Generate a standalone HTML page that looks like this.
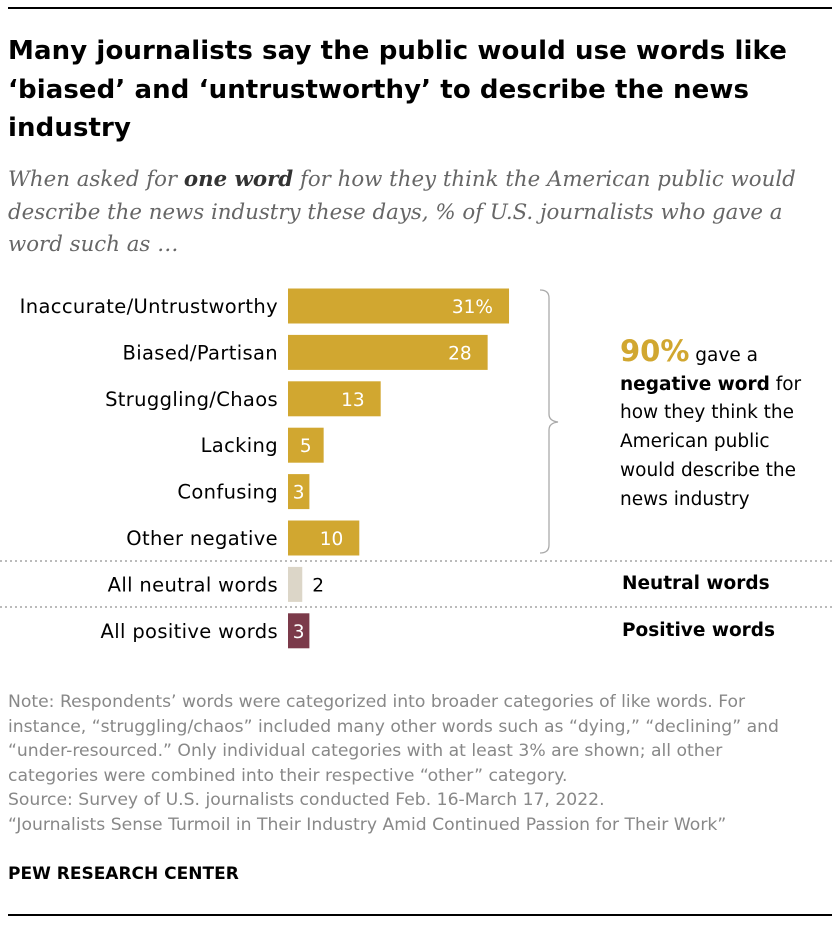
<!DOCTYPE html>
<html><head><meta charset="utf-8"><style>
body{margin:0;width:840px;height:926px;background:#fff;font-family:"DejaVu Sans","Liberation Sans",sans-serif;position:relative;overflow:hidden}
.abs{position:absolute;white-space:nowrap}
</style></head><body>
<div class="abs" style="left:8px;top:7px;width:824px;height:2px;background:#000"></div>
<div class="abs" style="left:8px;top:32px;font-size:26px;font-weight:bold;line-height:38.5px;color:#000;letter-spacing:0.1px">Many journalists say the public would use words like<br>‘biased’ and ‘untrustworthy’ to describe the news<br>industry</div>
<div class="abs" style="left:8px;top:164px;font-family:'DejaVu Serif','Liberation Serif',serif;font-style:italic;font-size:21.3px;line-height:32.5px;color:#666">When asked for <b style="color:#333">one word</b> for how they think the American public would<br>describe the news industry these days, % of U.S. journalists who gave a<br>word such as …</div>
<svg class="abs" style="left:0;top:0" width="840" height="926">
<g id="bars"></g>
<line x1="0" y1="561" x2="832" y2="561" stroke="#777" stroke-dasharray="2,3"/>
<line x1="0" y1="607" x2="832" y2="607" stroke="#777" stroke-dasharray="2,3"/>
<path d="M540 290 Q549 290 549 298 L549 414 Q549 421 558 422 Q549 423 549 430 L549 545 Q549 553 540 553" fill="none" stroke="#aaa" stroke-width="1.3"/>
</svg>
<div class="abs" style="left:620px;top:337px;font-size:18.5px;line-height:28.7px;color:#000"><span style="color:#D1A730;font-weight:bold;font-size:29px">90%</span> gave a<br><b>negative word</b> for<br>how they think the<br>American public<br>would describe the<br>news industry</div>
<div class="abs" style="left:622px;top:573px;font-size:18.5px;font-weight:bold">Neutral words</div>
<div class="abs" style="left:622px;top:620px;font-size:18.5px;font-weight:bold">Positive words</div>
<div class="abs" style="left:8px;top:690px;font-size:17.2px;line-height:24.5px;color:#888">Note: Respondents’ words were categorized into broader categories of like words. For<br>instance, “struggling/chaos” included many other words such as “dying,” “declining” and<br>“under-resourced.” Only individual categories with at least 3% are shown; all other<br>categories were combined into their respective “other” category.<br>Source: Survey of U.S. journalists conducted Feb. 16-March 17, 2022.<br>“Journalists Sense Turmoil in Their Industry Amid Continued Passion for Their Work”</div>
<div class="abs" style="left:8px;top:864px;font-size:17px;font-weight:bold;color:#000">PEW RESEARCH CENTER</div>
<div class="abs" style="left:8px;top:914px;width:824px;height:2px;background:#000"></div>
<script>
const categories=["Inaccurate/Untrustworthy","Biased/Partisan","Struggling/Chaos","Lacking","Confusing","Other negative","All neutral words","All positive words"];
const values=[31,28,13,5,3,10,2,3];
const labels=["31%","28","13","5","3","10","2","3"];
const groups=["neg","neg","neg","neg","neg","neg","neu","pos"];
const colors={neg:"#D1A730",neu:"#DCD6C8",pos:"#7B3A4A"};
const x0=288,scale=7.13,rowY=i=>306+i*46.4,bh=35;
const g=document.getElementById('bars');const ns="http://www.w3.org/2000/svg";
categories.forEach((c,i)=>{
 const y=rowY(i),w=values[i]*scale;
 const r=document.createElementNS(ns,'rect');
 r.setAttribute('x',x0);r.setAttribute('y',y-bh/2);r.setAttribute('width',w);r.setAttribute('height',bh);r.setAttribute('fill',colors[groups[i]]);
 
 
 g.appendChild(r);
 const t=document.createElementNS(ns,'text');
 t.setAttribute('x',278);t.setAttribute('y',y+7);t.setAttribute('text-anchor','end');t.setAttribute('font-size','19.5');t.setAttribute('letter-spacing','0.35');t.setAttribute('fill','#000');t.textContent=c;
 
 
 g.appendChild(t);
 const v=document.createElementNS(ns,'text');
 const inside=groups[i]!=="neu";
 v.setAttribute('x',inside?x0+w-16:x0+w+10);
 v.setAttribute('text-anchor',inside?'end':'start');
 if(values[i]<=5&&inside){v.setAttribute('x',x0+w/2);v.setAttribute('text-anchor','middle');}
 v.setAttribute('y',y+7);v.setAttribute('font-size','18.5');v.setAttribute('fill',inside?'#fff':'#000');v.textContent=labels[i];
 
 
 g.appendChild(v);
});
</script>
</body></html>
